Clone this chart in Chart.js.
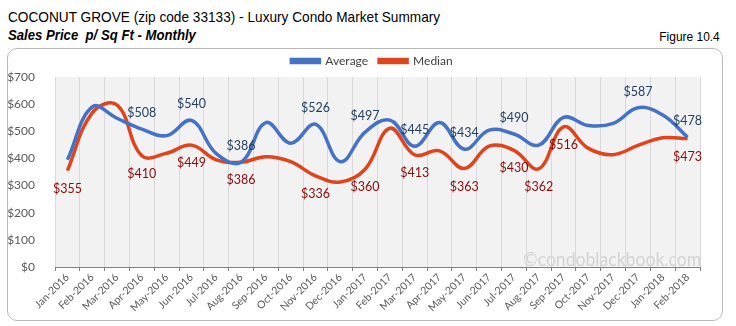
<!DOCTYPE html>
<html>
<head>
<meta charset="utf-8">
<script src="https://cdn.jsdelivr.net/npm/chart.js@4/dist/chart.umd.min.js"></script>
<style>
  html, body { margin: 0; padding: 0; background: #fff; }
  body { width: 736px; height: 326px; position: relative; overflow: hidden; }
  .title { position: absolute; left: 8px; top: 8px; font-family: "Liberation Sans", Arial, sans-serif; font-size: 15px; color: #000; transform: scaleX(0.91); transform-origin: left top; white-space: nowrap; }
  .subtitle { position: absolute; left: 8px; top: 27px; font-family: "Liberation Sans", Arial, sans-serif; font-size: 14px; font-weight: bold; font-style: italic; transform: scaleX(0.94); transform-origin: left top; white-space: nowrap; }
  .figure { position: absolute; right: 16px; top: 29px; font-family: "Liberation Sans", Arial, sans-serif; font-size: 13px; transform: scaleX(0.92); transform-origin: right top; }
  .frame { position: absolute; left: 7px; top: 48px; width: 714px; height: 271px; border: 1px solid #b8b8b8; border-radius: 10px; }
  .wm { position: absolute; left: 523px; top: 246px; font-family: Lato, "Open Sans", sans-serif; font-size: 20px; color: #d3d3d3; z-index: 2; transform: scaleX(0.88); transform-origin: left top; white-space: nowrap; }
  #chart { position: absolute; left: 0; top: 0; z-index: 1; }
</style>
</head>
<body>
<div class="title">COCONUT GROVE (zip code 33133) - Luxury Condo Market Summary</div>
<div class="subtitle">Sales Price&nbsp; p/ Sq Ft - Monthly</div>
<div class="figure">Figure 10.4</div>
<div class="frame"></div>
<canvas id="chart" width="736" height="326"></canvas>
<div class="wm">©condoblackbook.com</div>
<script>
// months Jan-2016 .. Feb-2018
const months = ['Jan-2016', 'Feb-2016', 'Mar-2016', 'Apr-2016', 'May-2016', 'Jun-2016', 'Jul-2016',
    'Aug-2016', 'Sep-2016', 'Oct-2016', 'Nov-2016', 'Dec-2016', 'Jan-2017', 'Feb-2017', 'Mar-2017',
    'Apr-2017', 'May-2017', 'Jun-2017', 'Jul-2017', 'Aug-2017', 'Sep-2017', 'Oct-2017', 'Nov-2017',
    'Dec-2017', 'Jan-2018', 'Feb-2018'];

const averagePrice = [395, 590, 548, 508, 484, 540, 418, 386, 532, 456, 526, 388, 497, 541, 445,
    532, 434, 504, 490, 449, 551, 521, 529, 587, 560, 478];
const medianPrice = [355, 568, 597, 410, 419, 449, 395, 386, 406, 388, 336, 313, 360, 511, 413,
    428, 363, 445, 430, 362, 516, 437, 414, 448, 476, 473];

// which points get a value label
const averageLabelIdx = [3, 5, 7, 10, 12, 14, 16, 18, 23, 25];
const medianLabelIdx = [0, 3, 5, 7, 10, 12, 14, 16, 18, 19, 20, 25];

const yTicks = [0, 100, 200, 300, 400, 500, 600, 700];

const BLUE = '#4472C4';
const RED = '#E0441C';
const axisFont = { family: "Lato, 'Open Sans', sans-serif", size: 12 };

// grey plot background
const plotBg = {
    id: 'plotBg',
    beforeDraw(chart) {
        const { ctx, chartArea: a } = chart;
        ctx.save();
        ctx.fillStyle = '#F2F2F2';
        ctx.fillRect(a.left, a.top, a.right - a.left, a.bottom - a.top);
        ctx.restore();
    }
};

// legend sits a bit right of the canvas centre in the original
const legendShift = {
    id: 'legendShift',
    afterLayout(chart) {
        chart.legend.left += 22;
        chart.legend.right += 22;
    }
};

// value labels: average above, median below
const valueLabels = {
    id: 'valueLabels',
    afterDatasetsDraw(chart) {
        const ctx = chart.ctx;
        ctx.save();
        ctx.font = "12.5px Lato, 'Open Sans', sans-serif";
        ctx.textAlign = 'center';
        ctx.textBaseline = 'middle';
        const sets = [
            { meta: chart.getDatasetMeta(0), idx: averageLabelIdx, data: averagePrice, dy: -16, color: '#243F60' },
            { meta: chart.getDatasetMeta(1), idx: medianLabelIdx, data: medianPrice, dy: 18, color: '#8B0A0A' }
        ];
        sets.forEach(s => {
            ctx.fillStyle = s.color;
            s.idx.forEach(i => {
                const pt = s.meta.data[i];
                ctx.fillText('$' + s.data[i], pt.x, pt.y + s.dy);
            });
        });
        ctx.restore();
    }
};

new Chart(document.getElementById('chart'), {
    type: 'line',
    data: {
        labels: months,
        datasets: [
            {
                label: 'Average',
                data: averagePrice,
                borderColor: BLUE,
                backgroundColor: BLUE,
                borderWidth: 3.5,
                tension: 0.4,
                pointRadius: 0
            },
            {
                label: 'Median',
                data: medianPrice,
                borderColor: RED,
                backgroundColor: RED,
                borderWidth: 3.5,
                tension: 0.4,
                pointRadius: 0
            }
        ]
    },
    options: {
        responsive: false,
        animation: false,
        layout: { padding: { left: 0, right: 36, top: 44, bottom: 0 } },
        scales: {
            x: {
                offset: true,
                grid: { offset: true, color: '#D9D9D9', drawTicks: true, tickLength: 4, tickColor: '#808080' },
                border: { color: '#808080' },
                ticks: { color: '#595959', font: { family: axisFont.family, size: 10.5 }, minRotation: 45, maxRotation: 45, autoSkip: false, padding: 0 },
                afterFit(s) { s.height = 59; }
            },
            y: {
                min: 0,
                max: 700,
                afterBuildTicks(s) { s.ticks = yTicks.map(v => ({ value: v })); },
                grid: { display: false },
                border: { display: false },
                ticks: { color: '#595959', font: axisFont, padding: 12, callback: v => '$' + v },
                afterFit(s) { s.width = 55; }
            }
        },
        plugins: {
            legend: {
                position: 'top',
                labels: {
                    boxWidth: 28,
                    boxHeight: 3,
                    color: '#404040',
                    font: axisFont,
                    padding: 11
                }
            },
            tooltip: { enabled: false }
        }
    },
    plugins: [plotBg, legendShift, valueLabels]
});
</script>
</body>
</html>
